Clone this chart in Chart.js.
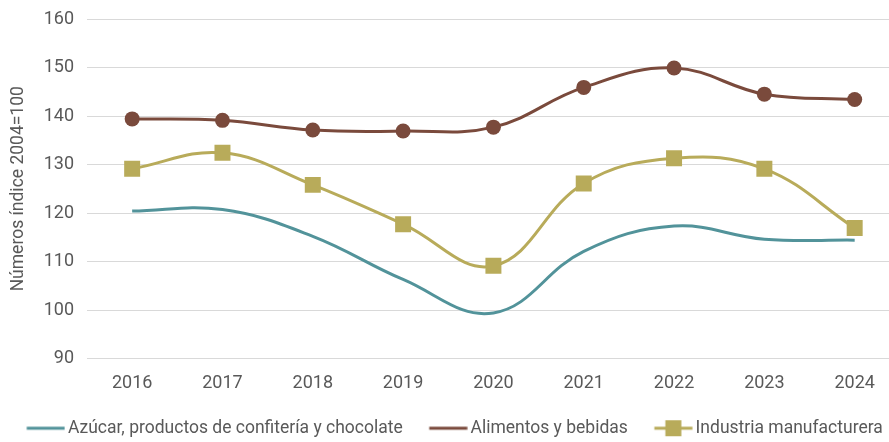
<!DOCTYPE html>
<html>
<head>
<meta charset="utf-8">
<script src="https://cdn.jsdelivr.net/npm/chart.js@4.4.1/dist/chart.umd.min.js"></script>
<style>
  body { margin: 0; background: #fff; }
  #wrap { width: 889px; height: 442px; }
</style>
</head>
<body>
<div id="wrap"><canvas id="chart" width="889" height="442"></canvas></div>
<script>
const years = [2016, 2017, 2018, 2019, 2020, 2021, 2022, 2023, 2024];
const azucar = [120.4, 120.7, 115.2, 106.3, 99.4, 112.1, 117.3, 114.6, 114.4];
const alimentos = [139.4, 139.1, 137.1, 136.9, 137.7, 145.9, 149.9, 144.5, 143.4];
const industria = [129.1, 132.4, 125.8, 117.7, 109.1, 126.1, 131.3, 129.1, 116.9];
const yTicks = [90, 100, 110, 120, 130, 140, 150, 160];

const FONT = "'Roboto', sans-serif";
const TEXT = '#595959';
const SW = 53; // legend pointStyleWidth

// legend sample: line (and square) ending just before the label text
function sample(color, square) {
  const c = document.createElement('canvas');
  c.width = SW + 12; c.height = 18;
  const g = c.getContext('2d');
  const x1 = SW + 6 + 5.5, x0 = x1 - 38;
  g.strokeStyle = color; g.lineWidth = 3;
  g.beginPath(); g.moveTo(x0, 9); g.lineTo(x1, 9); g.stroke();
  if (square) { g.fillStyle = color; g.fillRect((x0 + x1) / 2 - 8, 1, 16, 16); }
  return c;
}

const series = [
  { label: 'Azúcar, productos de confitería y chocolate', data: azucar, color: '#52939a', point: false, square: false },
  { label: 'Alimentos y bebidas', data: alimentos, color: '#7a4a3c', point: 'circle', square: false },
  { label: 'Industria manufacturera', data: industria, color: '#b8ab5a', point: 'rect', square: true }
];

new Chart(document.getElementById('chart'), {
  type: 'line',
  data: {
    datasets: series.map(s => ({
      label: s.label,
      data: years.map((y, i) => ({ x: y, y: s.data[i] })),
      borderColor: s.color,
      backgroundColor: s.color,
      borderWidth: 3,
      tension: 0.4,
      pointStyle: s.point || 'circle',
      pointRadius: s.point === 'rect' ? 11.3 : (s.point ? 7.5 : 0),
      pointBorderWidth: 0,
      legendImg: sample(s.color, s.square)
    }))
  },
  options: {
    responsive: false,
    animation: false,
    layout: { autoPadding: false, padding: { top: 19, right: 0, left: 0, bottom: -5 } },
    scales: {
      x: {
        type: 'linear',
        min: 2015.5,
        max: 2024.38,
        afterBuildTicks: ax => { ax.ticks = years.map(v => ({ value: v })); },
        afterFit: ax => { ax.height = 55; ax.paddingLeft = 0; ax.paddingRight = 0; },
        grid: { display: false },
        border: { display: false },
        ticks: { color: TEXT, font: { family: FONT, size: 18 }, padding: 6, maxRotation: 0, callback: v => String(v) }
      },
      y: {
        min: 90,
        max: 160,
        afterBuildTicks: ax => { ax.ticks = yTicks.map(v => ({ value: v })); },
        afterFit: ax => { ax.width = 87; ax.paddingTop = 0; ax.paddingBottom = 0; },
        grid: { color: '#d9d9d9', lineWidth: 1, drawTicks: false },
        border: { display: false },
        ticks: { color: TEXT, font: { family: FONT, size: 18 }, padding: 13 },
        title: { display: true, text: 'Números índice 2004=100', color: TEXT, font: { family: FONT, size: 17.5 }, padding: { top: 8, bottom: 0 } }
      }
    },
    plugins: {
      tooltip: { enabled: false },
      legend: {
        position: 'bottom',
        labels: {
          color: TEXT,
          font: { family: FONT, size: 17.5 },
          usePointStyle: true,
          pointStyleWidth: SW,
          boxHeight: 17,
          padding: 6,
          generateLabels: chart => chart.data.datasets.map((d, i) => ({
            text: d.label,
            pointStyle: d.legendImg,
            fillStyle: d.borderColor,
            strokeStyle: d.borderColor,
            lineWidth: 0,
            fontColor: TEXT,
            datasetIndex: i
          }))
        }
      }
    }
  }
});
</script>
</body>
</html>
